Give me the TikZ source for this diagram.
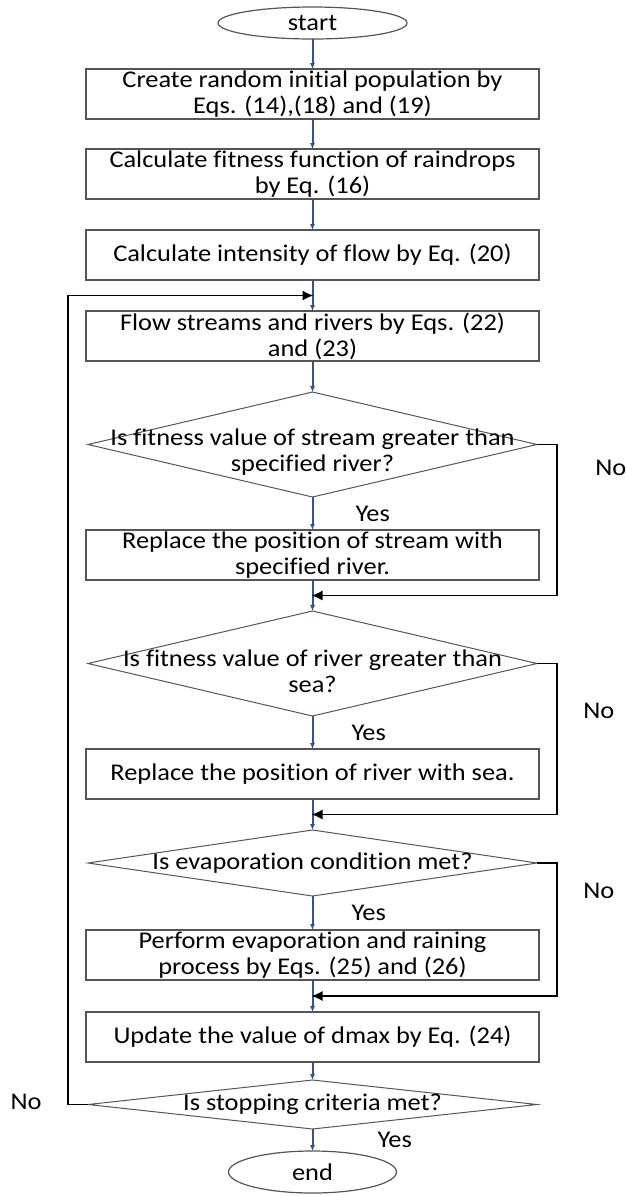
\documentclass[tikz,border=0pt]{standalone}
\usepackage{fontspec}
\setmainfont{Carlito}[FakeStretch=1.1, Ligatures=NoCommon]
\usepackage{tikz}
\usetikzlibrary{shapes.geometric, arrows.meta, positioning, calc}
\definecolor{flowblue}{RGB}{55,85,125}
\definecolor{edgegray}{RGB}{85,85,85}

\begin{document}
\begin{tikzpicture}[
    font=\fontsize{12}{13}\selectfont,
    node distance=15.5pt,
    startstop/.style={ellipse, draw=edgegray, line width=0.6pt, inner sep=0pt, outer sep=0pt},
    block/.style={rectangle, draw=edgegray, line width=0.6pt, minimum width=226.5pt, minimum height=25pt, inner xsep=2pt, inner ysep=0pt, outer sep=0pt, align=center},
    decision/.style={diamond, draw=edgegray, line width=0.5pt, minimum width=224.5pt, inner sep=0pt, outer sep=0pt},
    qtext/.style={align=center, inner sep=0pt},
    flow/.style={-{Latex[length=3pt,width=2.6pt]}, draw=flowblue, line width=1pt},
    back/.style={-{Latex[length=5.5pt,width=5pt]}, line width=0.7pt, shorten >=-0.5pt},
    lbl/.style={inner sep=0pt}
]
    \useasboundingbox (0,0) rectangle (313pt,-598pt);

    % Start
    \node[startstop, minimum width=94.5pt, minimum height=16pt] (start) at (156.25pt,-11.5pt) {start};

    % Initialisation
    \node[block, below=15pt of start] (init) {Create random initial population by\\Eqs. (14),(18) and (19)};
    \node[block, below=15pt of init] (fit) {Calculate fitness function of raindrops\\by Eq. (16)};
    \node[block, below=15.5pt of fit] (intens) {Calculate intensity of flow by Eq. (20)};

    % Main loop
    \node[block, below=15.5pt of intens] (streams) {Flow streams and rivers by Eqs. (22)\\and (23)};
    \node[decision, minimum height=52.5pt, below=15.5pt of streams] (q1) {};
    \node[qtext, yshift=-4pt] (q1t) at (q1) {Is fitness value of stream greater than\\specified river?};
    \node[block, below=16.5pt of q1] (repriver) {Replace the position of stream with\\specified river.};
    \node[decision, minimum height=52.5pt, below=15.5pt of repriver] (q2) {};
    \node[qtext, yshift=-4pt] (q2t) at (q2) {Is fitness value of river greater than\\sea?};
    \node[block, below=16.5pt of q2] (repsea) {Replace the position of river with sea.};
    \node[decision, minimum height=33pt, below=15.5pt of repsea] (q3) {};
    \node[qtext] (q3t) at (q3) {Is evaporation condition met?};
    \node[block, below=17pt of q3] (evap) {Perform evaporation and raining\\process by Eqs. (25) and (26)};
    \node[block, below=16pt of evap] (dmax) {Update the value of dmax by Eq. (24)};
    \node[decision, minimum height=24.5pt, below=9pt of dmax] (q4) {};
    \node[qtext] (q4t) at (q4) {Is stopping criteria met?};

    % End
    \node[startstop, minimum width=84pt, minimum height=21pt, below=11pt of q4] (stop) {end};

    % Junctions
    \coordinate (j0) at ($(intens.south)!0.5!(streams.north)$);
    \coordinate (j1) at ($(repriver.south)!0.5!(q2.north)$);
    \coordinate (j2) at ($(repsea.south)!0.5!(q3.north)$);
    \coordinate (j3) at ($(evap.south)!0.5!(dmax.north)$);

    % Arrows
    \draw[flow] (start) -- (init);
    \draw[flow] (init) -- (fit);
    \draw[flow] (fit) -- (intens);
    \draw[flow] (intens) -- (streams);
    \draw[flow] (streams) -- (q1);
    \draw[flow] (q1) -- node[lbl, right=21pt] (y1) {Yes} (repriver);
    \draw[flow] (repriver) -- (q2);
    \draw[flow] (q2) -- node[lbl, right=19pt] (y2) {Yes} (repsea);
    \draw[flow] (repsea) -- (q3);
    \draw[flow] (q3) -- node[lbl, right=19pt] (y3) {Yes} (evap);
    \draw[flow] (evap) -- (dmax);
    \draw[flow] (dmax) -- (q4);
    \draw[flow] (q4) -- node[lbl, right=32pt] (y4) {Yes} (stop);

    % No branches
    \draw[back] (q1.east) -- ++(10pt,0) |- (j1);
    \draw[back] (q2.east) -- ++(10pt,0) |- (j2);
    \draw[back] (q3.east) -- ++(10pt,0) |- (j3);
    \draw[back] (q4.west) -- ++(-10pt,0) |- (j0);

    \node[lbl, right=29pt of q1.east, yshift=-11.5pt] (n1) {No};
    \node[lbl, right=23pt of q2.east, yshift=-23.5pt] (n2) {No};
    \node[lbl, right=23pt of q3.east, yshift=-14pt] (n3) {No};
    \node[lbl, left=23pt of q4.west, yshift=1.5pt] (n4) {No};
\end{tikzpicture}
\end{document}
